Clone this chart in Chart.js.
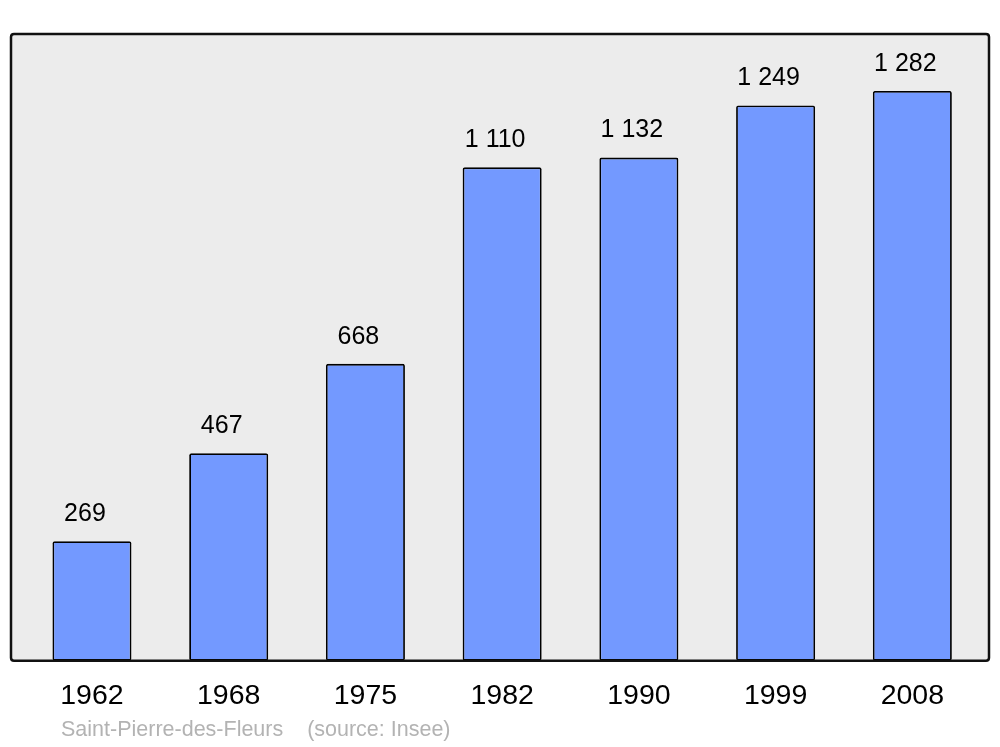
<!DOCTYPE html>
<html>
<head>
<meta charset="utf-8">
<script src="https://cdn.jsdelivr.net/npm/chart.js@4"></script>
<style>
  html, body { margin: 0; padding: 0; background: #fff; }
  canvas { display: block; }
</style>
</head>
<body>
<canvas id="pop" width="1000" height="747"></canvas>
<script>
// data
const years = ["1962", "1968", "1975", "1982", "1990", "1999", "2008"];
const population = [269, 467, 668, 1110, 1132, 1249, 1282];
const placeName = "Saint-Pierre-des-Fleurs";
const sourceNote = "(source: Insee)";

const FONT = "'Liberation Sans', Arial, sans-serif";

function fmt(n) {
  // french style thousands: "1 282"
  return String(n).replace(/\B(?=(\d{3})+(?!\d))/g, " ");
}

function roundRect(ctx, x, y, w, h, r) {
  ctx.beginPath();
  ctx.moveTo(x + r, y);
  ctx.lineTo(x + w - r, y);
  ctx.quadraticCurveTo(x + w, y, x + w, y + r);
  ctx.lineTo(x + w, y + h - r);
  ctx.quadraticCurveTo(x + w, y + h, x + w - r, y + h);
  ctx.lineTo(x + r, y + h);
  ctx.quadraticCurveTo(x, y + h, x, y + h - r);
  ctx.lineTo(x, y + r);
  ctx.quadraticCurveTo(x, y, x + r, y);
  ctx.closePath();
}

// grey frame behind the bars, black outline on top
const framePlugin = {
  id: "frame",
  beforeDatasetsDraw(chart) {
    const ctx = chart.ctx;
    const a = chart.chartArea;
    ctx.save();
    roundRect(ctx, 11, a.top, 978, a.bottom - a.top, 3);
    ctx.fillStyle = "#ececec";
    ctx.fill();
    ctx.restore();
  },
  afterDatasetsDraw(chart) {
    const ctx = chart.ctx;
    const a = chart.chartArea;
    ctx.save();
    roundRect(ctx, 11, a.top, 978, a.bottom - a.top, 3);
    ctx.lineWidth = 2.5;
    ctx.strokeStyle = "#111";
    ctx.stroke();
    ctx.restore();
  }
};

// value above each bar + source line under the axis
const labelPlugin = {
  id: "labels",
  afterDraw(chart) {
    const ctx = chart.ctx;
    const meta = chart.getDatasetMeta(0);
    ctx.save();
    ctx.font = "25px " + FONT;
    ctx.fillStyle = "#000";
    ctx.textAlign = "center";
    ctx.textBaseline = "middle";
    meta.data.forEach(function (bar, i) {
      ctx.fillText(fmt(population[i]), bar.x - 7, bar.y - 27);
    });
    ctx.font = "21.5px " + FONT;
    ctx.fillStyle = "#b3b3b3";
    ctx.textAlign = "left";
    ctx.fillText(placeName + "    " + sourceNote, 61, 730);
    ctx.restore();
  }
};

new Chart(document.getElementById("pop").getContext("2d"), {
  type: "bar",
  data: {
    labels: years,
    datasets: [{
      data: population,
      backgroundColor: "#7399ff",
      borderColor: "#000",
      borderWidth: 1.8,
      borderRadius: 2,
      borderSkipped: false,
      barPercentage: 0.578,
      categoryPercentage: 1
    }]
  },
  options: {
    responsive: false,
    animation: false,
    layout: {
      padding: { left: 23.6, right: 19.3, top: 34, bottom: 16 }
    },
    plugins: {
      legend: { display: false },
      tooltip: { enabled: false }
    },
    scales: {
      x: {
        offset: true,
        grid: { display: false, drawTicks: false },
        border: { display: false },
        ticks: {
          padding: 18,
          color: "#000",
          font: { family: FONT, size: 28.5 },
          maxRotation: 0
        }
      },
      y: {
        display: false,
        min: 0,
        max: 1410
      }
    }
  },
  plugins: [framePlugin, labelPlugin]
});
</script>
</body>
</html>
